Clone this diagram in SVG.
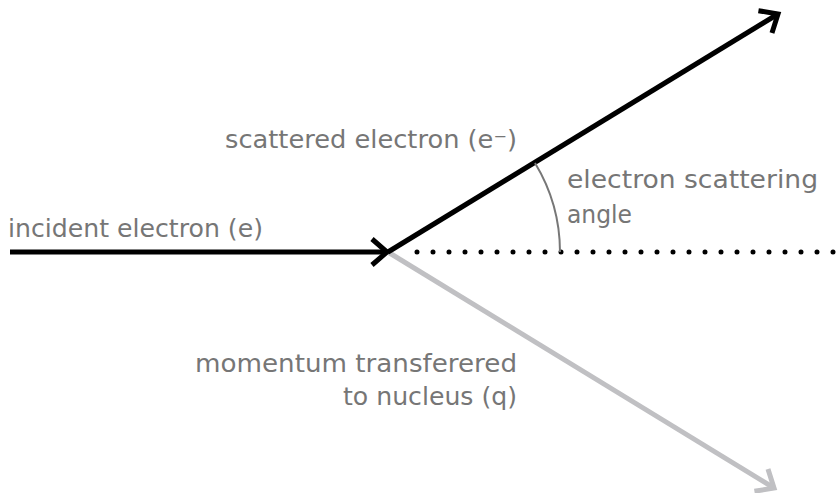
<svg xmlns="http://www.w3.org/2000/svg" width="839" height="493" viewBox="0 0 839 493">
<style>
.lbl{font-family:"DejaVu Sans",sans-serif;font-size:24px;fill:#767676}
.blk{stroke:#000;stroke-width:5;fill:none}
.gry{stroke:#c0c0c3;stroke-width:5;fill:none}
</style>
<defs>
<marker id="ab" markerUnits="userSpaceOnUse" viewBox="-20 -16 24 32" refX="0" refY="0" markerWidth="24" markerHeight="32" orient="auto" overflow="visible">
<path d="M-15,-13 L0,0 L-15,13" fill="none" stroke="#000" stroke-width="5"/>
</marker>
<marker id="ag" markerUnits="userSpaceOnUse" viewBox="-20 -16 24 32" refX="0" refY="0" markerWidth="24" markerHeight="32" orient="auto" overflow="visible">
<path d="M-15,-13 L0,0 L-15,13" fill="none" stroke="#c0c0c3" stroke-width="5"/>
</marker>
</defs>
<g id="connectors">
<line id="momentum" class="gry" x1="388" y1="252" x2="774" y2="488" marker-end="url(#ag)"/>
<line id="incident" class="blk" x1="10" y1="252" x2="387" y2="252" marker-end="url(#ab)"/>
<line id="scattered" class="blk" x1="388" y1="252" x2="778" y2="14" marker-end="url(#ab)"/>
<line id="reference" x1="417" y1="252" x2="834" y2="252" stroke="#000" stroke-width="5" stroke-linecap="round" stroke-dasharray="0 16"/>
<path id="angle-arc" d="M535,163 A172,172 0 0 1 560,252" fill="none" stroke="#777" stroke-width="2"/>
</g>
<g id="label-incident"><text class="lbl" x="8" y="237" textLength="255" lengthAdjust="spacingAndGlyphs">incident electron (e)</text></g>
<g id="label-scattered"><text class="lbl" x="225" y="148" textLength="292" lengthAdjust="spacingAndGlyphs">scattered electron (e⁻)</text></g>
<g id="label-angle"><text class="lbl" x="567" y="188" textLength="251" lengthAdjust="spacingAndGlyphs">electron scattering</text><text class="lbl" x="567" y="223" textLength="65" lengthAdjust="spacingAndGlyphs">angle</text></g>
<g id="label-momentum"><text class="lbl" x="195" y="372" textLength="322" lengthAdjust="spacingAndGlyphs">momentum transferered</text><text class="lbl" x="343" y="405" textLength="174" lengthAdjust="spacingAndGlyphs">to nucleus (q)</text></g>
</svg>
